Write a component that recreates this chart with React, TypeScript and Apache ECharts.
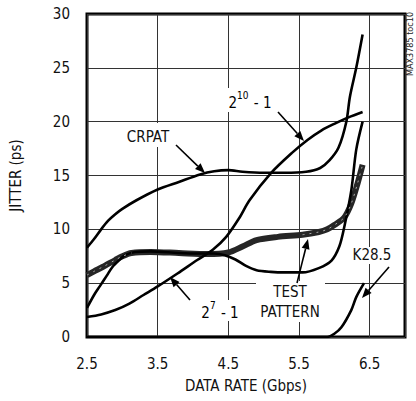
import React, { useEffect, useRef } from 'react';
import * as echarts from 'echarts';

const X0 = 2.5;
const X_MAX = 7.0;
const Y_TICKS = [0, 5, 10, 15, 20, 25, 30];

const TEST_PATTERN: [number, number][] = [
  [2.5, 5.75], [2.6, 6.1], [2.72, 6.5], [2.9, 7.15], [3.0, 7.5], [3.13, 7.8], [3.4, 7.9],
  [3.8, 7.8], [4.2, 7.7], [4.5, 7.85], [4.7, 8.4], [4.9, 9.0], [5.2, 9.3], [5.55, 9.5],
  [5.78, 9.75], [5.9, 10.0], [6.0, 10.4], [6.14, 11.1], [6.24, 12.4], [6.33, 14.3], [6.4, 16.0],
];
const CRPAT: [number, number][] = [
  [2.5, 8.3], [2.6, 9.1], [2.7, 10.0], [2.8, 10.8], [2.9, 11.4], [3.0, 11.9], [3.2, 12.7],
  [3.5, 13.7], [3.8, 14.4], [4.1, 15.1], [4.3, 15.4], [4.5, 15.5], [4.7, 15.35], [5.0, 15.25],
  [5.3, 15.25], [5.6, 15.35], [5.8, 15.7], [5.93, 16.4], [6.06, 17.6], [6.17, 20.0],
  [6.22, 22.3], [6.31, 25.0], [6.4, 28.1],
];
const PRBS7: [number, number][] = [
  [2.5, 1.86], [2.7, 2.1], [2.9, 2.5], [3.1, 3.1], [3.3, 3.9], [3.5, 4.7], [3.78, 5.9],
  [4.06, 7.15], [4.28, 8.1], [4.47, 9.3], [4.65, 11.0], [4.8, 12.7], [5.1, 15.2], [5.4, 17.1],
  [5.62, 18.3], [5.82, 19.2], [6.0, 19.8], [6.2, 20.4], [6.4, 20.9],
];
const PRBS10: [number, number][] = [
  [2.5, 2.7], [2.6, 3.9], [2.68, 4.7], [2.78, 5.7], [2.86, 6.5], [2.95, 7.1], [3.04, 7.6],
  [3.18, 7.9], [3.4, 7.95], [3.8, 7.8], [4.1, 7.75], [4.3, 7.75], [4.45, 7.6], [4.6, 7.2],
  [4.75, 6.6], [4.9, 6.2], [5.1, 6.05], [5.3, 6.0], [5.55, 6.0], [5.78, 6.4], [5.96, 7.1],
  [6.07, 8.4], [6.14, 10.2], [6.24, 13.6], [6.31, 17.4], [6.4, 20.0],
];
const K285: [number, number][] = [
  [2.5, 0], [5.0, 0], [5.9, 0], [6.0, 0.3], [6.1, 0.9], [6.24, 2.5], [6.31, 3.7], [6.42, 5.0],
];

const FONT = "'DejaVu Sans Condensed', 'Liberation Sans Narrow', sans-serif";

const shift = (pts: [number, number][]) => pts.map(([x, y]) => [x - X0, y]);

function arrow(x1: number, y1: number, x2: number, y2: number, len = 10, half = 4) {
  const dx = x2 - x1, dy = y2 - y1;
  const d = Math.hypot(dx, dy);
  const ux = dx / d, uy = dy / d;
  const bx = x2 - ux * len, by = y2 - uy * len;
  return [
    { type: 'line', z: 10, shape: { x1, y1, x2: bx, y2: by }, style: { stroke: '#000', lineWidth: 1.6 } },
    {
      type: 'polygon', z: 10,
      shape: { points: [[x2, y2], [bx - uy * half, by + ux * half], [bx + uy * half, by - ux * half]] },
      style: { fill: '#000' },
    },
  ];
}

function bg(x: number, y: number, w: number, h: number) {
  return { type: 'rect', z: 9, shape: { x, y, width: w, height: h }, style: { fill: '#fff' } };
}

function label(text: string, x: number, y: number, size = 15) {
  return {
    type: 'text', z: 11, x, y,
    style: { text, fill: '#111', font: `${size}px ${FONT}`, align: 'center', verticalAlign: 'middle' },
  };
}

export default function App() {
  const ref = useRef<HTMLDivElement>(null);
  useEffect(() => {
    if (!ref.current) return;
    const chart = echarts.init(ref.current, undefined, { renderer: 'svg' });
    const lineSeries = (data: [number, number][], width: number, color = '#000') => ({
      type: 'line', data: shift(data), symbol: 'none', smooth: 0.3,
      lineStyle: { color, width }, z: 3, silent: true,
    });
    const supRich = {
      b: { fontSize: 15, fontFamily: FONT, color: '#111', lineHeight: 20, verticalAlign: 'bottom' },
      s: { fontSize: 10, fontFamily: FONT, color: '#111', lineHeight: 20, verticalAlign: 'top', padding: [0, 1, 0, 0] },
    };
    const speckle = shift(TEST_PATTERN).map(([x, y]) =>
      x + X0 <= 3.15 || x + X0 >= 5.5 ? [x, y] : [x, null]);
    chart.setOption({
      animation: false,
      backgroundColor: '#fff',
      grid: { left: 79, right: 11, top: 14, bottom: 64, show: true, borderColor: '#000', borderWidth: 3 },
      xAxis: {
        type: 'value', min: 0, max: X_MAX - X0, interval: 1,
        name: 'DATA RATE (Gbps)', nameLocation: 'middle', nameGap: 41,
        nameTextStyle: { fontFamily: FONT, fontSize: 15, color: '#111' },
        axisLine: { show: false }, axisTick: { show: false },
        splitLine: { show: true, lineStyle: { color: '#333', width: 1 } },
        axisLabel: {
          formatter: (v: number) => (v + X0).toFixed(1), showMaxLabel: false,
          fontFamily: FONT, fontSize: 15, color: '#111', margin: 19,
        },
      },
      yAxis: {
        type: 'value', min: Y_TICKS[0], max: Y_TICKS[Y_TICKS.length - 1], interval: Y_TICKS[1] - Y_TICKS[0],
        name: 'JITTER (ps)', nameLocation: 'middle', nameGap: 64,
        nameTextStyle: { fontFamily: FONT, fontSize: 15, color: '#111' },
        axisLine: { show: false }, axisTick: { show: false },
        splitLine: { show: true, lineStyle: { color: '#333', width: 1 } },
        axisLabel: { fontFamily: FONT, fontSize: 15, color: '#111', margin: 17 },
      },
      series: [
        lineSeries(TEST_PATTERN, 6, '#262626'),
        {
          type: 'line', data: speckle, symbol: 'none', smooth: 0.3, connectNulls: false,
          lineStyle: { color: '#aaa', width: 1, type: [2, 5] }, z: 4, silent: true,
        },
        lineSeries(CRPAT, 2.6),
        lineSeries(PRBS7, 2.6),
        lineSeries(PRBS10, 2.6),
        lineSeries(K285, 2.6),
      ],
      graphic: [
        bg(124, 123, 48, 24),
        label('CRPAT', 148, 137),
        ...arrow(176, 145, 205, 173),
        bg(226, 88, 48, 24),
        {
          type: 'text', z: 11, x: 250, y: 100,
          style: { text: '{b|2}{s|10}{b| - 1}', rich: supRich, align: 'center', verticalAlign: 'middle' },
        },
        ...arrow(278, 112, 304, 141),
        bg(200, 300, 40, 21),
        {
          type: 'text', z: 11, x: 220, y: 310,
          style: { text: '{b|2}{s|7}{b| - 1}', rich: supRich, align: 'center', verticalAlign: 'middle' },
        },
        ...arrow(190, 300, 170, 277),
        bg(256, 281, 69, 41),
        label('TEST', 290, 292),
        label('PATTERN', 290, 312),
        ...arrow(297, 283, 308, 239),
        bg(350, 247, 44, 17),
        label('K28.5', 372, 255),
        ...arrow(389, 267, 362, 298),
        {
          type: 'text', z: 11, x: 410, y: 44, rotation: Math.PI / 2,
          style: { text: 'MAX3785 toc10', fill: '#222', font: `9px ${FONT}`, align: 'center', verticalAlign: 'middle' },
        },
      ],
    });
    return () => chart.dispose();
  }, []);
  return <div ref={ref} style={{ position: 'absolute', left: 0, top: 0, width: 416, height: 401 }} />;
}
